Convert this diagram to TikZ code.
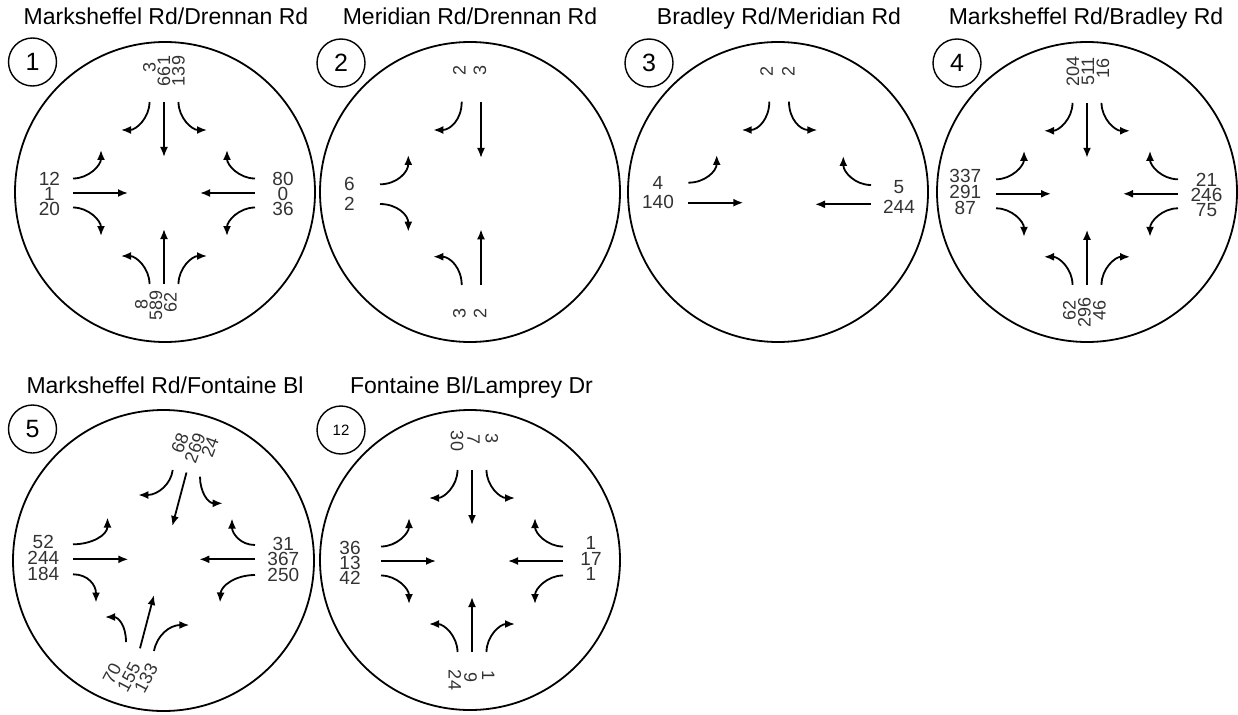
\documentclass[tikz,border=0pt]{standalone}
\usepackage{fontspec}
\setmainfont{Liberation Sans}
\usetikzlibrary{arrows.meta}
\tikzset{
  arr/.style={line width=1.8pt, -{Latex[length=10pt,width=8pt]}},
  big/.style={line width=1.8pt},
  numc/.style={circle, draw, line width=1.4pt, minimum size=48pt, inner sep=0pt, font=\fontsize{25}{25}\selectfont},
  ttl/.style={font=\fontsize{23}{23}\selectfont, anchor=base},
  lbl/.style={inner sep=0pt, align=center, text=black!80, font=\fontsize{19}{#1}\selectfont},
  lbl/.default=15,
  vlbl/.style={inner sep=0pt, text=black!80, font=\fontsize{18}{18}\selectfont},
}
\newcommand\mvThru{\draw[arr] (0,91) -- (0,36);}
\newcommand\mvLeft{\draw[arr] (-14.5,91) .. controls (-14.5,75) and (-28,63) .. (-43,63);}
\newcommand\mvRight{\draw[arr] (14.5,91) .. controls (14.5,75) and (28,63) .. (43,63);}
\newcommand\fullarm[1]{\begin{scope}[rotate=#1]\mvThru\mvLeft\mvRight\end{scope}}
\begin{document}
\begin{tikzpicture}[x=1pt,y=-1pt]
\useasboundingbox (0,0) rectangle (1238,714);
% titles
\node[ttl] (t1) at (166,25) {Marksheffel Rd/Drennan Rd};
\node[ttl] (t2) at (470,25) {Meridian Rd/Drennan Rd};
\node[ttl] (t3) at (779,25) {Bradley Rd/Meridian Rd};
\node[ttl] (t4) at (1086,25) {Marksheffel Rd/Bradley Rd};
\node[ttl] (t5) at (165,393) {Marksheffel Rd/Fontaine Bl};
\node[ttl] (t6) at (471.5,393) {Fontaine Bl/Lamprey Dr};
% big circles
\draw[big] (165,192) circle[radius=150];
\draw[big] (470,192) circle[radius=150];
\draw[big] (778,192) circle[radius=150];
\draw[big] (1087,192) circle[radius=150];
\draw[big] (163.5,560.5) circle[radius=150.5];
\draw[big] (470,560) circle[radius=150];
% numbered circles
\node[numc] (n1) at (32.5,62) {1};
\node[numc] (n2) at (341,63) {2};
\node[numc] (n3) at (649,63) {3};
\node[numc] (n4) at (957,63) {4};
\node[numc] (n5) at (32.5,429) {5};
\node[numc, font=\fontsize{15}{15}\selectfont] (n12) at (341,430) {12};

% ---------- 1
\begin{scope}[shift={(164,193)}]
\fullarm{0}\fullarm{90}\fullarm{180}\fullarm{-90}
\end{scope}
\node[lbl] (a1l) at (49.5,193.5) {12\\1\\20};
\node[lbl] (a1r) at (283,193.5) {80\\0\\36};
\node[vlbl, rotate=90] (a1t1) at (149.5,67) {3};
\node[vlbl, rotate=90] (a1t2) at (164,71) {661};
\node[vlbl, rotate=90] (a1t3) at (178.5,71) {139};
\node[vlbl, rotate=90] (a1b1) at (141.5,304) {8};
\node[vlbl, rotate=90] (a1b2) at (156,305) {589};
\node[vlbl, rotate=90] (a1b3) at (170.5,302.5) {62};

% ---------- 2
\draw[arr] (461.7,101.7) .. controls (461.7,120) and (450,130) .. (433.3,130);
\draw[arr] (481,101.7) -- (481,158);
\draw[arr] (380,184.3) .. controls (397,184.3) and (408.3,172) .. (408.3,155);
\draw[arr] (380,204) .. controls (397,204) and (408.3,215) .. (408.3,231.7);
\draw[arr] (461.7,285) .. controls (461.7,268) and (450,256.7) .. (433.3,256.7);
\draw[arr] (481,285) -- (481,229.3);
\node[lbl=19.7] (a2l) at (349.3,194) {6\\2};
\node[vlbl, rotate=90] (a2t1) at (459.3,70.7) {2};
\node[vlbl, rotate=90] (a2t2) at (480,70.7) {3};
\node[vlbl, rotate=90] (a2b1) at (459.3,313.3) {3};
\node[vlbl, rotate=90] (a2b2) at (480,313.3) {2};

% ---------- 3
\draw[arr] (769.3,101.7) .. controls (769.3,119) and (758,130) .. (741.7,130);
\draw[arr] (789,101.7) .. controls (789,119) and (800,130) .. (817.3,130);
\draw[arr] (688.3,182.7) .. controls (705,182.7) and (716.7,171) .. (716.7,155);
\draw[arr] (688.3,202.7) -- (743.3,202.7);
\draw[arr] (871,185) .. controls (855,185) and (843.3,172) .. (843.3,156);
\draw[arr] (871,204.3) -- (815,204.3);
\node[lbl=19] (a3l) at (658,192.2) {4\\140};
\node[lbl=20] (a3r) at (899,196.7) {5\\244};
\node[vlbl, rotate=90] (a3t1) at (766.7,71.7) {2};
\node[vlbl, rotate=90] (a3t2) at (788.3,71.7) {2};

% ---------- 4
\begin{scope}[shift={(1087,193.8)}]
\fullarm{0}\fullarm{90}\fullarm{180}\fullarm{-90}
\end{scope}
\node[lbl=16] (a4l) at (965.3,191.5) {337\\291\\87};
\node[lbl] (a4r) at (1206.5,195) {21\\246\\75};
\node[vlbl, rotate=90] (a4t1) at (1073,71.5) {204};
\node[vlbl, rotate=90] (a4t2) at (1088,71.5) {511};
\node[vlbl, rotate=90] (a4t3) at (1103,68) {16};
\node[vlbl, rotate=90] (a4b1) at (1069.5,310) {62};
\node[vlbl, rotate=90] (a4b2) at (1084.5,312) {296};
\node[vlbl, rotate=90] (a4b3) at (1099.5,310) {46};

% ---------- 5
\draw[arr] (172.7,470) .. controls (171,484) and (158,495) .. (138.3,495);
\draw[arr] (186.5,472.5) -- (172.3,526);
\draw[arr] (200,476.7) .. controls (200,492) and (208,503.3) .. (222.7,503.3);
\draw[arr] (73,544.3) .. controls (92,544.3) and (107.5,535) .. (107.5,517.5);
\draw[arr] (73,559.3) -- (128.3,559.3);
\draw[arr] (73,574.3) .. controls (88,574.3) and (96,585) .. (96,602.5);
\draw[arr] (255,545) .. controls (240,545) and (232,533) .. (232,518.5);
\draw[arr] (255,559.3) -- (199.3,559.3);
\draw[arr] (255,575) .. controls (235,575) and (221,586) .. (220,602.5);
\draw[arr] (126,642) .. controls (126,625) and (118,617) .. (105,617);
\draw[arr] (140,648.3) -- (154,595);
\draw[arr] (154,651) .. controls (157,635) and (170,625) .. (189.3,625);
\node[lbl=16] (a5l) at (43.3,558) {52\\244\\184};
\node[lbl=15.5] (a5r) at (283.3,559) {31\\367\\250};
\node[vlbl, rotate=70] (a5t1) at (180,443) {68};
\node[vlbl, rotate=70] (a5t2) at (195,448) {269};
\node[vlbl, rotate=70] (a5t3) at (210,447) {24};
\node[vlbl, rotate=62] (a5b1) at (112,674) {70};
\node[vlbl, rotate=62] (a5b2) at (129,677) {155};
\node[vlbl, rotate=62] (a5b3) at (146,678) {133};

% ---------- 12
\begin{scope}[shift={(472,561)}]
\fullarm{0}\fullarm{90}\fullarm{180}\fullarm{-90}
\end{scope}
\node[lbl] (a6l) at (350,562.5) {36\\13\\42};
\node[lbl=15.6] (a6r) at (591,558.5) {1\\17\\1};
\node[vlbl, rotate=-90] (a6t1) at (457,441) {30};
\node[vlbl, rotate=-90] (a6t2) at (473.5,440) {7};
\node[vlbl, rotate=-90] (a6t3) at (491.7,439) {3};
\node[vlbl, rotate=-90] (a6b1) at (455,680) {24};
\node[vlbl, rotate=-90] (a6b2) at (470.5,677) {9};
\node[vlbl, rotate=-90] (a6b3) at (488.3,675) {1};
\end{tikzpicture}
\end{document}
